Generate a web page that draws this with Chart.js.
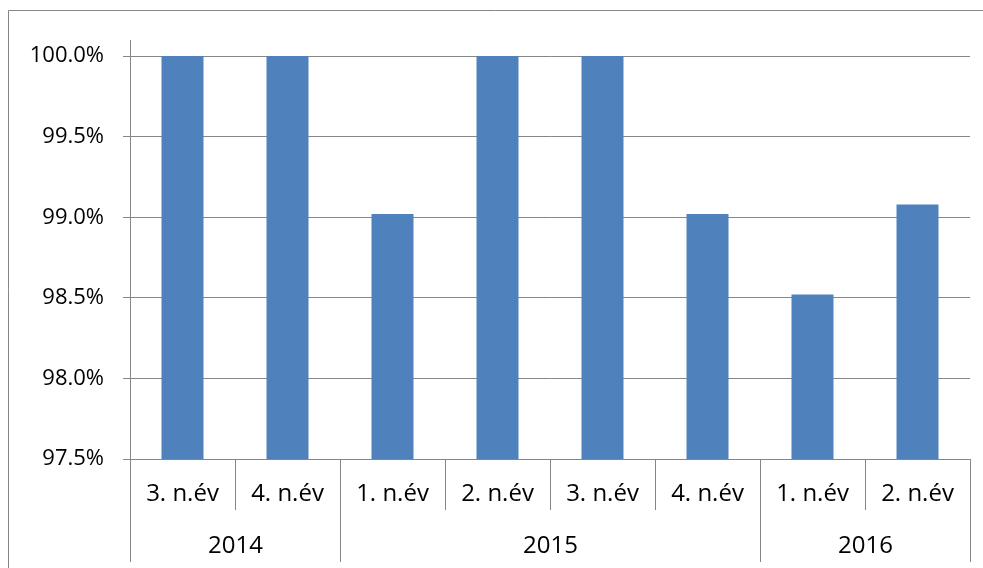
<!DOCTYPE html>
<html>
<head>
<meta charset="utf-8">
<script src="https://cdn.jsdelivr.net/npm/chart.js@4/dist/chart.umd.min.js"></script>
<style>
  html, body { margin: 0; padding: 0; background: #fff; }
  #wrap { position: relative; width: 983px; height: 568px; }
</style>
</head>
<body>
<div id="wrap"><canvas id="c" width="983" height="568"></canvas></div>
<script>
const quarters = ['3. n.év', '4. n.év', '1. n.év', '2. n.év', '3. n.év', '4. n.év', '1. n.év', '2. n.év'];
const years = ['2014', '2015', '2016'];
const yearSpans = [2, 4, 2];
const values = [100.0, 100.0, 99.02, 100.0, 100.0, 99.02, 98.52, 99.08];
const yTicks = [97.5, 98.0, 98.5, 99.0, 99.5, 100.0];

const FONT = '"Open Sans"';
const YSIZE = 22;
const XSIZE = 24;
const GRID = '#868686';

const groupPlugin = {
  id: 'groupPlugin',
  beforeDraw(chart) {
    const ctx = chart.ctx;
    ctx.save();
    ctx.strokeStyle = GRID;
    ctx.lineWidth = 1;
    ctx.beginPath();
    ctx.moveTo(8.5, 568);
    ctx.lineTo(8.5, 10.5);
    ctx.lineTo(983, 10.5);
    ctx.stroke();
    ctx.restore();
  },
  afterDraw(chart) {
    const ctx = chart.ctx;
    const xs = chart.scales.x;
    const area = chart.chartArea;
    const n = quarters.length;
    const bounds = [];
    for (let i = 0; i <= n; i++) {
      let x;
      if (i === 0) x = area.left;
      else if (i === n) x = area.right;
      else x = (xs.getPixelForValue(i - 1) + xs.getPixelForValue(i)) / 2;
      bounds.push(Math.round(x) + 0.5);
    }
    const groupIdx = [0];
    yearSpans.reduce((acc, s) => { acc += s; groupIdx.push(acc); return acc; }, 0);
    ctx.save();
    ctx.strokeStyle = GRID;
    ctx.lineWidth = 1;
    bounds.forEach((x, i) => {
      const long = groupIdx.includes(i);
      ctx.beginPath();
      ctx.moveTo(x, area.bottom);
      ctx.lineTo(x, long ? 562 : 510);
      ctx.stroke();
    });
    ctx.fillStyle = '#000';
    ctx.font = XSIZE + 'px ' + FONT;
    ctx.textAlign = 'center';
    ctx.textBaseline = 'middle';
    years.forEach((y, k) => {
      const x = (bounds[groupIdx[k]] + bounds[groupIdx[k + 1]]) / 2;
      ctx.fillText(y, x, 546);
    });
    ctx.restore();
  }
};

new Chart(document.getElementById('c'), {
  type: 'bar',
  data: {
    labels: quarters,
    datasets: [{
      data: values,
      backgroundColor: '#4F81BD',
      borderWidth: 0,
      barPercentage: 0.4,
      categoryPercentage: 1.0
    }]
  },
  options: {
    responsive: false,
    animation: false,
    devicePixelRatio: 1,
    layout: { padding: { top: 40, right: 13, left: 0, bottom: 0 } },
    plugins: { legend: { display: false }, tooltip: { enabled: false } },
    scales: {
      y: {
        min: 97.5,
        max: 100.1,
        afterFit(scale) { scale.width = 130; },
        afterBuildTicks(scale) { scale.ticks = yTicks.map(v => ({ value: v })); },
        grid: { color: GRID, tickLength: 7, tickColor: GRID, lineWidth: 1 },
        border: { display: true, color: GRID, width: 1 },
        ticks: {
          color: '#000',
          padding: 19,
          font: { family: FONT, size: YSIZE },
          callback: v => Number(v).toFixed(1) + '%'
        }
      },
      x: {
        offset: true,
        afterFit(scale) { scale.height = 109; },
        grid: { display: false, drawTicks: false },
        border: { display: true, color: GRID, width: 1 },
        ticks: {
          color: '#000',
          padding: 21,
          maxRotation: 0,
          autoSkip: false,
          font: { family: FONT, size: XSIZE }
        }
      }
    }
  },
  plugins: [groupPlugin]
});
</script>
</body>
</html>
